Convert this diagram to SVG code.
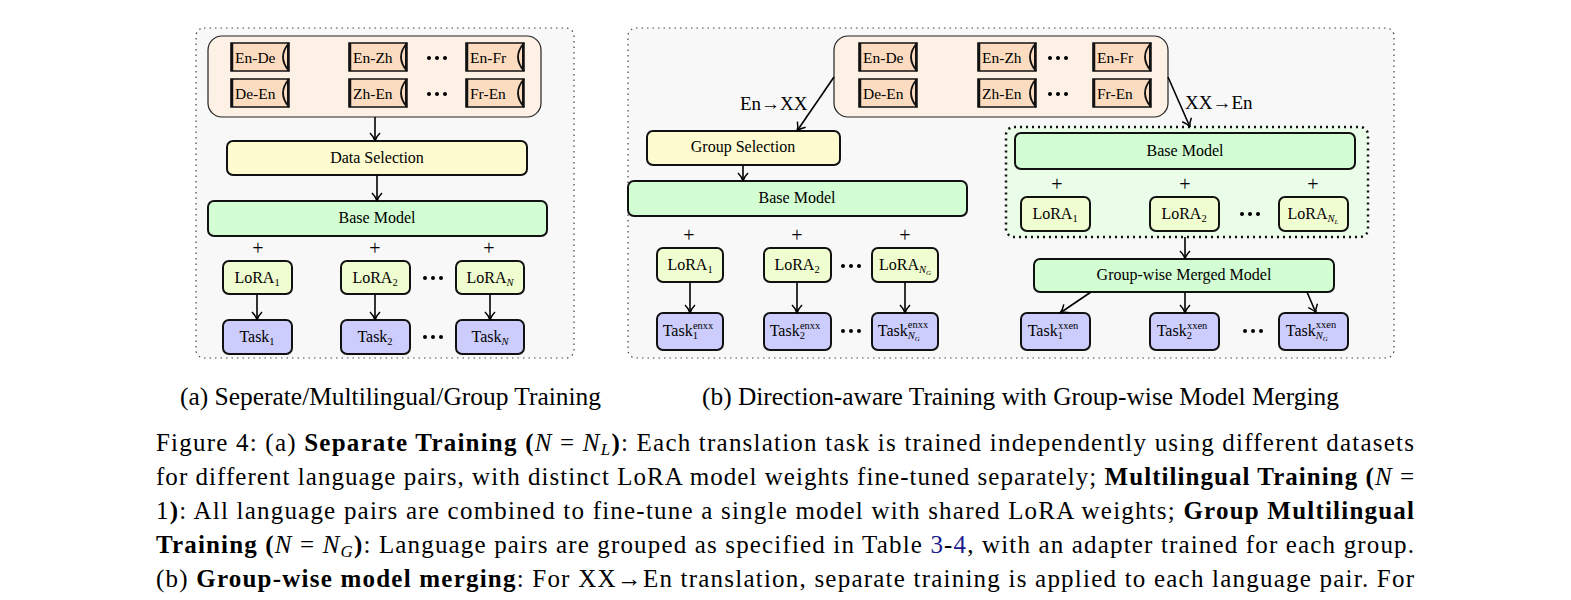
<svg xmlns="http://www.w3.org/2000/svg" width="1571" height="600" viewBox="0 0 1571 600">
<style>
text{font-family:"Liberation Serif","DejaVu Serif",serif;fill:#000}
.n{font-size:16px;text-anchor:middle}
.s{font-size:10.5px}
.panel{fill:#f8f8f8;stroke:#444;stroke-width:1.2;stroke-dasharray:1.5 4}
.top{fill:#fdf1e6;stroke:#222;stroke-width:1.2}
.y{fill:#fefbd0;stroke:#111;stroke-width:2}
.g{fill:#d3fdd3;stroke:#111;stroke-width:2}
.l{fill:#f0fdd0;stroke:#111;stroke-width:2}
.t{fill:#cccdfd;stroke:#111;stroke-width:2}
.sc{fill:#fcdcc0;stroke:#111;stroke-width:1.5}
.c{stroke:#000;stroke-width:1.6;fill:none}
.cap{font-size:25px}
.fig{font-size:25px}
.pl{font-size:20px;text-anchor:middle}
.sl{font-size:15.5px}
</style>
<defs>
<marker id="a" viewBox="0 0 12 12" refX="10" refY="6" markerWidth="12" markerHeight="12" markerUnits="userSpaceOnUse" orient="auto"><path d="M2,1 Q6,5 10,6 Q6,7 2,11" fill="none" stroke="#000" stroke-width="1.5"/></marker>
<g id="scroll"><rect x="0" y="0" width="58" height="28" class="sc"/><path d="M1,0V28" stroke="#111" stroke-width="2.5"/><path d="M58,0 Q46,14 58,28" fill="#fcdcc0" stroke="#111" stroke-width="1.8"/><path d="M57,0V28" stroke="#111" stroke-width="2"/></g>
<g id="dots"><circle cx="-8" cy="0" r="2"/><circle cx="0" cy="0" r="2"/><circle cx="8" cy="0" r="2"/></g>
</defs>
<rect x="196" y="28" width="378" height="330" rx="8" class="panel"/>
<rect x="628" y="28" width="766" height="330" rx="8" class="panel"/>

<g id="dataA">
<rect x="208" y="36" width="333" height="81" rx="14" class="top"/>
<use href="#scroll" x="231" y="43"/><use href="#scroll" x="231" y="79"/>
<use href="#scroll" x="349" y="43"/><use href="#scroll" x="349" y="79"/>
<use href="#scroll" x="466" y="43"/><use href="#scroll" x="466" y="79"/>
<text x="235" y="63" class="sl">En-De</text><text x="235" y="99" class="sl">De-En</text>
<text x="353" y="63" class="sl">En-Zh</text><text x="353" y="99" class="sl">Zh-En</text>
<text x="470" y="63" class="sl">En-Fr</text><text x="470" y="99" class="sl">Fr-En</text>
<use href="#dots" x="437" y="58"/><use href="#dots" x="437" y="94"/>
</g>
<g id="dataSel"><rect x="227" y="141" width="300" height="34" rx="6" class="y"/><text x="377" y="163" class="n">Data Selection</text></g>
<g id="baseA"><rect x="208" y="201" width="339" height="35" rx="6" class="g"/><text x="377" y="223" class="n">Base Model</text></g>
<g id="plusA"><text x="258" y="255" class="pl">+</text><text x="375" y="255" class="pl">+</text><text x="489" y="255" class="pl">+</text></g>
<g id="loraA1"><rect x="223" y="261" width="69" height="33" rx="6" class="l"/><text x="257" y="283" class="n">LoRA<tspan class="s" dy="3">1</tspan></text></g>
<g id="loraA2"><rect x="341" y="261" width="69" height="33" rx="6" class="l"/><text x="375" y="283" class="n">LoRA<tspan class="s" dy="3">2</tspan></text></g>
<g id="loraAN"><rect x="456" y="261" width="68" height="33" rx="6" class="l"/><text x="490" y="283" class="n">LoRA<tspan class="s" dy="3" font-style="italic">N</tspan></text></g>
<use href="#dots" x="433" y="278"/>
<g id="taskA1"><rect x="223" y="320" width="69" height="34" rx="6" class="t"/><text x="257" y="342" class="n">Task<tspan class="s" dy="3">1</tspan></text></g>
<g id="taskA2"><rect x="341" y="320" width="69" height="34" rx="6" class="t"/><text x="375" y="342" class="n">Task<tspan class="s" dy="3">2</tspan></text></g>
<g id="taskAN"><rect x="456" y="320" width="68" height="34" rx="6" class="t"/><text x="490" y="342" class="n">Task<tspan class="s" dy="3" font-style="italic">N</tspan></text></g>
<use href="#dots" x="433" y="337"/>

<g id="dataB">
<rect x="834" y="36" width="334" height="81" rx="14" class="top"/>
<use href="#scroll" x="859" y="43"/><use href="#scroll" x="859" y="79"/>
<use href="#scroll" x="978" y="43"/><use href="#scroll" x="978" y="79"/>
<use href="#scroll" x="1093" y="43"/><use href="#scroll" x="1093" y="79"/>
<text x="863" y="63" class="sl">En-De</text><text x="863" y="99" class="sl">De-En</text>
<text x="982" y="63" class="sl">En-Zh</text><text x="982" y="99" class="sl">Zh-En</text>
<text x="1097" y="63" class="sl">En-Fr</text><text x="1097" y="99" class="sl">Fr-En</text>
<use href="#dots" x="1058" y="58"/><use href="#dots" x="1058" y="94"/>
</g>
<text x="740" y="110" font-size="19">En→XX</text>
<text x="1185" y="109" font-size="19">XX→En</text>
<g id="groupSel"><rect x="647" y="131" width="193" height="34" rx="6" class="y"/><text x="743" y="152" class="n">Group Selection</text></g>
<g id="baseB1"><rect x="628" y="181" width="339" height="35" rx="6" class="g"/><text x="797" y="203" class="n">Base Model</text></g>
<g id="plusB"><text x="689" y="242" class="pl">+</text><text x="797" y="242" class="pl">+</text><text x="905" y="242" class="pl">+</text></g>
<g id="loraB1"><rect x="657" y="248" width="66" height="34" rx="6" class="l"/><text x="690" y="270" class="n">LoRA<tspan class="s" dy="3">1</tspan></text></g>
<g id="loraB2"><rect x="764" y="248" width="67" height="34" rx="6" class="l"/><text x="797" y="270" class="n">LoRA<tspan class="s" dy="3">2</tspan></text></g>
<g id="loraBN"><rect x="872" y="248" width="66" height="34" rx="6" class="l"/><text x="905" y="270" class="n">LoRA<tspan class="s" dy="3" font-style="italic">N<tspan font-size="7" dy="2">G</tspan></tspan></text></g>
<use href="#dots" x="851" y="266"/>
<g id="taskB1"><rect x="657" y="313" width="66" height="37" rx="6" class="t"/><text x="688" y="336" class="n">Task<tspan class="s" dy="3">1</tspan><tspan class="s" dx="-5" dy="-10">enxx</tspan></text></g>
<g id="taskB2"><rect x="764" y="313" width="67" height="37" rx="6" class="t"/><text x="795" y="336" class="n">Task<tspan class="s" dy="3">2</tspan><tspan class="s" dx="-5" dy="-10">enxx</tspan></text></g>
<g id="taskBN"><rect x="872" y="313" width="66" height="37" rx="6" class="t"/><text x="903" y="336" class="n">Task<tspan class="s" dy="3" font-style="italic">N<tspan font-size="7" dy="2">G</tspan></tspan><tspan class="s" dx="-12" dy="-13">enxx</tspan></text></g>
<use href="#dots" x="851" y="331"/>

<g id="mergeRegion">
<rect x="1006" y="127" width="362" height="110" rx="8" fill="#e9fde9" stroke="#111" stroke-width="2.5" stroke-dasharray="2 4"/>
</g>
<g id="baseB2"><rect x="1015" y="133" width="340" height="36" rx="6" class="g"/><text x="1185" y="156" class="n">Base Model</text></g>
<g id="plusC"><text x="1057" y="191" class="pl">+</text><text x="1185" y="191" class="pl">+</text><text x="1313" y="191" class="pl">+</text></g>
<g id="loraC1"><rect x="1021" y="197" width="69" height="34" rx="6" class="l"/><text x="1055" y="219" class="n">LoRA<tspan class="s" dy="3">1</tspan></text></g>
<g id="loraC2"><rect x="1150" y="197" width="69" height="34" rx="6" class="l"/><text x="1184" y="219" class="n">LoRA<tspan class="s" dy="3">2</tspan></text></g>
<g id="loraCN"><rect x="1279" y="197" width="69" height="34" rx="6" class="l"/><text x="1313" y="219" class="n">LoRA<tspan class="s" dy="3" font-style="italic">N<tspan font-size="7" dy="2">L</tspan></tspan></text></g>
<use href="#dots" x="1250" y="214"/>
<g id="merged"><rect x="1034" y="259" width="300" height="33" rx="6" class="g"/><text x="1184" y="280" class="n">Group-wise Merged Model</text></g>
<g id="taskC1"><rect x="1021" y="313" width="69" height="37" rx="6" class="t"/><text x="1053" y="336" class="n">Task<tspan class="s" dy="3">1</tspan><tspan class="s" dx="-5" dy="-10">xxen</tspan></text></g>
<g id="taskC2"><rect x="1150" y="313" width="69" height="37" rx="6" class="t"/><text x="1182" y="336" class="n">Task<tspan class="s" dy="3">2</tspan><tspan class="s" dx="-5" dy="-10">xxen</tspan></text></g>
<g id="taskCN"><rect x="1279" y="313" width="69" height="37" rx="6" class="t"/><text x="1311" y="336" class="n">Task<tspan class="s" dy="3" font-style="italic">N<tspan font-size="7" dy="2">G</tspan></tspan><tspan class="s" dx="-12" dy="-13">xxen</tspan></text></g>
<use href="#dots" x="1253" y="331"/>

<g id="connectors" class="c" marker-end="url(#a)">
<path d="M375,117V141"/><path d="M377,175V201"/>
<path d="M257,294V320"/><path d="M375,294V320"/><path d="M490,294V320"/>
<path d="M834,77L797,131"/><path d="M1168,77L1190,127"/>
<path d="M743,165V181"/>
<path d="M690,282V313"/><path d="M797,282V313"/><path d="M905,282V313"/>
<path d="M1185,237V259"/>
<path d="M1091,292L1060,313"/><path d="M1185,292V313"/><path d="M1307,292L1316,313"/>
</g>

<text x="180" y="405" class="cap" textLength="421" lengthAdjust="spacingAndGlyphs">(a) Seperate/Multilingual/Group Training</text>
<text x="702" y="405" class="cap" textLength="637" lengthAdjust="spacingAndGlyphs">(b) Direction-aware Training with Group-wise Model Merging</text>

<g class="fig">
<text x="156" y="451" textLength="1258" lengthAdjust="spacing">Figure 4: (a) <tspan font-weight="bold">Separate Training</tspan> <tspan font-weight="bold">(</tspan><tspan font-style="italic">N</tspan> = <tspan font-style="italic">N</tspan><tspan font-size="17" dy="4" font-style="italic">L</tspan><tspan dy="-4" font-weight="bold">)</tspan>: Each translation task is trained independently using different datasets</text>
<text x="156" y="485" textLength="1258" lengthAdjust="spacing">for different language pairs, with distinct LoRA model weights fine-tuned separately; <tspan font-weight="bold">Multilingual Training</tspan> <tspan font-weight="bold">(</tspan><tspan font-style="italic">N</tspan> =</text>
<text x="156" y="519" textLength="1258" lengthAdjust="spacing">1<tspan font-weight="bold">)</tspan>: All language pairs are combined to fine-tune a single model with shared LoRA weights; <tspan font-weight="bold">Group Multilingual</tspan></text>
<text x="156" y="553" textLength="1258" lengthAdjust="spacing"><tspan font-weight="bold">Training</tspan> <tspan font-weight="bold">(</tspan><tspan font-style="italic">N</tspan> = <tspan font-style="italic">N</tspan><tspan font-size="17" dy="4" font-style="italic">G</tspan><tspan dy="-4" font-weight="bold">)</tspan>: Language pairs are grouped as specified in Table <tspan fill="#1a1a8c">3</tspan>-<tspan fill="#1a1a8c">4</tspan>, with an adapter trained for each group.</text>
<text x="156" y="587" textLength="1258" lengthAdjust="spacing">(b) <tspan font-weight="bold">Group-wise model merging</tspan>: For XX→En translation, separate training is applied to each language pair. For</text>
</g>
</svg>
